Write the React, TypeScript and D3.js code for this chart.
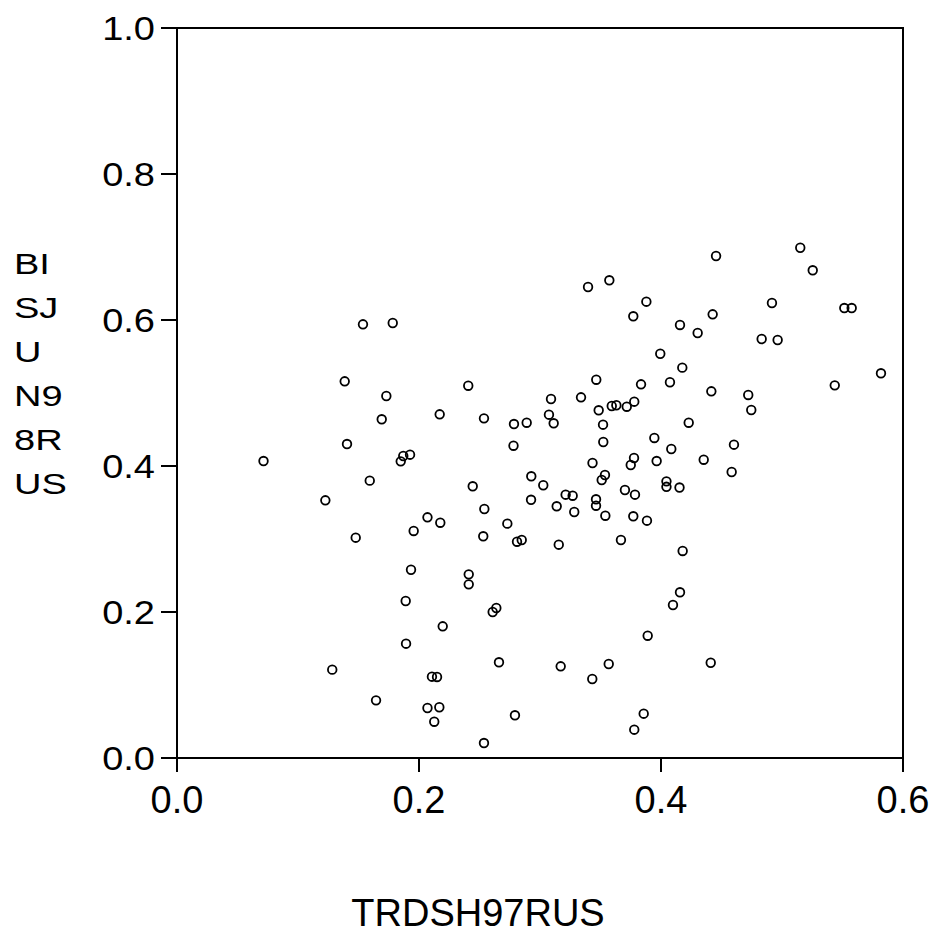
import React from "react";
import * as d3 from "d3";

// TRDSH97RUS (x) vs BISJUN98RUS (y)
const xValues: number[] = [
  0.4455, 0.5151, 0.5254, 0.4917, 0.5515, 0.5576, 0.4427, 0.4157, 0.4303, 0.4832,
  0.4964, 0.4176, 0.5818, 0.5436, 0.4416, 0.4721, 0.4746, 0.4229, 0.4603, 0.4353,
  0.4584, 0.4153, 0.3397, 0.3573, 0.3879, 0.3771, 0.3994, 0.2407, 0.3465, 0.3835,
  0.4074, 0.2171, 0.2537, 0.3091, 0.3339, 0.3074, 0.3113, 0.2785, 0.2890, 0.3485,
  0.3593, 0.3631, 0.3717, 0.3779, 0.3521, 0.3523, 0.2781, 0.3945, 0.4085, 0.3777,
  0.3750, 0.3964, 0.3434, 0.3537, 0.3510, 0.2928, 0.3027, 0.2444, 0.4045, 0.4045,
  0.3702, 0.3785, 0.3212, 0.3270, 0.2926, 0.3463, 0.3463, 0.2540, 0.3138, 0.3283,
  0.3540, 0.3771, 0.3884, 0.2070, 0.2176, 0.2730, 0.2531, 0.2810, 0.2849, 0.3155,
  0.3669, 0.2411, 0.2411, 0.2609, 0.2639, 0.2196, 0.4099, 0.3890, 0.2661, 0.3171,
  0.3568, 0.3432, 0.2107, 0.2149, 0.2070, 0.2168, 0.2126, 0.2793, 0.3857, 0.3779,
  0.2537, 0.4179, 0.4157, 0.4411, 0.1405, 0.0715, 0.1849, 0.1870, 0.1926, 0.1593,
  0.1226, 0.1956, 0.1477, 0.1934, 0.1890, 0.1893, 0.1283, 0.1645, 0.1537, 0.1783,
  0.1386, 0.1730, 0.1692,
];

const yValues: number[] = [
  0.6877, 0.6990, 0.6681, 0.6233, 0.6164, 0.6164, 0.6078, 0.5932, 0.5822, 0.5740,
  0.5726, 0.5347, 0.5270, 0.5105, 0.5023, 0.4973, 0.4767, 0.4593, 0.4292, 0.4086,
  0.3918, 0.3705, 0.6452, 0.6544, 0.6251, 0.6051, 0.5538, 0.5100, 0.5182, 0.5119,
  0.5147, 0.4708, 0.4653, 0.4918, 0.4941, 0.4703, 0.4585, 0.4575, 0.4593, 0.4763,
  0.4822, 0.4832, 0.4812, 0.4881, 0.4566, 0.4329, 0.4278, 0.4384, 0.4233, 0.4110,
  0.4014, 0.4068, 0.4041, 0.3877, 0.3808, 0.3859, 0.3736, 0.3722, 0.3790, 0.3715,
  0.3671, 0.3607, 0.3607, 0.3593, 0.3537, 0.3544, 0.3456, 0.3411, 0.3448, 0.3370,
  0.3319, 0.3311, 0.3251, 0.3297, 0.3223, 0.3210, 0.3037, 0.2963, 0.2986, 0.2922,
  0.2986, 0.2516, 0.2379, 0.2000, 0.2055, 0.1804, 0.2096, 0.1675, 0.1311, 0.1256,
  0.1288, 0.1082, 0.1114, 0.1110, 0.0685, 0.0695, 0.0497, 0.0585, 0.0607, 0.0388,
  0.0205, 0.2836, 0.2270, 0.1305, 0.4301, 0.4068, 0.4064, 0.4137, 0.4155, 0.3799,
  0.3530, 0.3110, 0.3018, 0.2579, 0.2151, 0.1566, 0.1210, 0.0790, 0.5941, 0.5959,
  0.5160, 0.4959, 0.4640,
];

const xTicks: number[] = [0, 0.2, 0.4, 0.6];
const yTicks: number[] = [0, 0.2, 0.4, 0.6, 0.8, 1.0];
const xTitle = "TRDSH97RUS";
const yTitleLines: string[] = ["BI", "SJ", "U", "N9", "8R", "US"];

const W = 938;
const H = 939;
const left = 177;
const right = 903;
const top = 28;
const bottom = 758;
const FONT = "'Liberation Sans', Arial, Helvetica, sans-serif";

export default function App() {
  const x = d3.scaleLinear().domain([0, 0.6]).range([left, right]);
  const y = d3.scaleLinear().domain([0, 1]).range([bottom, top]);
  const fmt = d3.format(".1f");
  const points = xValues.map((v, i) => ({ x: v, y: yValues[i] }));

  return (
    <svg
      width={W}
      height={H}
      viewBox={`0 0 ${W} ${H}`}
      style={{ position: "absolute", left: 0, top: 0, background: "#fff" }}
    >
      <rect x={0} y={0} width={W} height={H} fill="#fff" />
      {/* frame */}
      <rect
        x={left}
        y={top}
        width={right - left}
        height={bottom - top}
        fill="none"
        stroke="#000"
        strokeWidth={2}
      />
      {/* y ticks */}
      {yTicks.map((t) => (
        <g key={"y" + t}>
          <line x1={left - 16} x2={left} y1={y(t)} y2={y(t)} stroke="#000" strokeWidth={2} />
          <text
            transform={`translate(${left - 22},${y(t) + 12}) scale(1,0.85)`}
            textAnchor="end"
            fontFamily={FONT}
            fontSize={38}
            fill="#000"
          >
            {fmt(t)}
          </text>
        </g>
      ))}
      {/* x ticks */}
      {xTicks.map((t) => (
        <g key={"x" + t}>
          <line x1={x(t)} x2={x(t)} y1={bottom} y2={bottom + 14} stroke="#000" strokeWidth={2} />
          <text
            x={x(t)}
            y={813}
            textAnchor="middle"
            fontFamily={FONT}
            fontSize={38}
            fill="#000"
          >
            {fmt(t)}
          </text>
        </g>
      ))}
      {/* points */}
      {points.map((p, i) => (
        <circle
          key={i}
          cx={x(p.x)}
          cy={y(p.y)}
          r={4.3}
          fill="none"
          stroke="#000"
          strokeWidth={1.8}
        />
      ))}
      {/* axis titles */}
      {yTitleLines.map((s, i) => (
        <text
          key={s}
          transform={`translate(14,${274 + i * 44}) scale(1,0.8)`}
          fontFamily={FONT}
          fontSize={38}
          fill="#000"
        >
          {s}
        </text>
      ))}
      <text
        x={(left + right) / 2 - 62}
        y={926}
        textAnchor="middle"
        fontFamily={FONT}
        fontSize={38}
        fill="#000"
      >
        {xTitle}
      </text>
    </svg>
  );
}
